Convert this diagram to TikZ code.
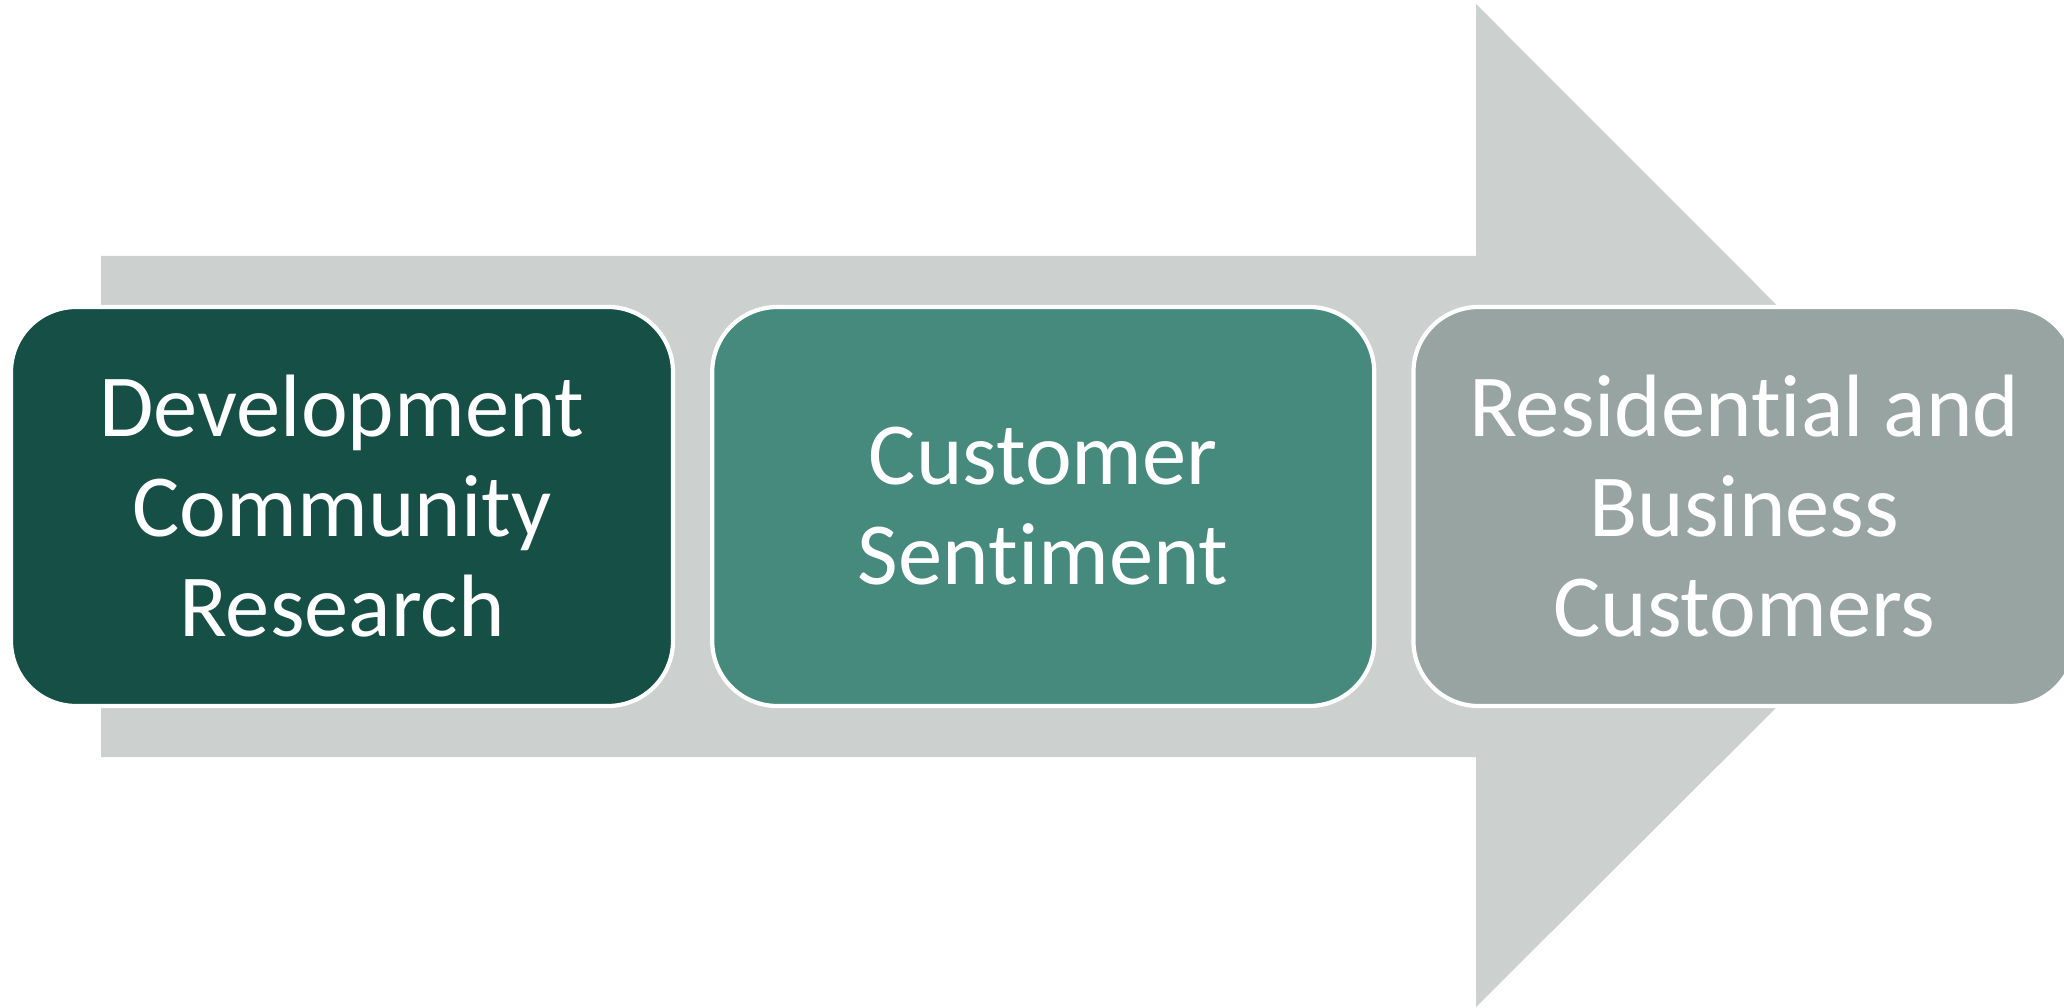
\documentclass[tikz,border=0pt]{standalone}
\usepackage{fontspec}
\setmainfont{Carlito}[Ligatures=NoCommon]
\usepackage{tikz}
\usetikzlibrary{positioning}

\definecolor{arrowgray}{RGB}{204,208,206}
\definecolor{darkgreen}{RGB}{21,79,69}
\definecolor{midgreen}{RGB}{69,138,124}
\definecolor{greygreen}{RGB}{151,164,161}

\tikzset{
  stage/.style={draw=white, line width=1.2pt, rounded corners=0.65cm,
    minimum width=6.62cm, minimum height=3.99cm, align=center,
    text=white, font=\fontsize{25.2}{28.45}\selectfont}
}

\begin{document}
\begin{tikzpicture}

    \useasboundingbox (0,0) rectangle (20.64,10.07);
    \fill[arrowgray] (1.01,2.50) -- (14.76,2.50) -- (14.76,0) -- (19.78,5.005)
      -- (14.76,10.03) -- (14.76,7.51) -- (1.01,7.51) -- cycle;

    \node[stage, fill=darkgreen] (research) at (3.42,5.005)
      {Development\\Community\\Research};
    \node[stage, fill=midgreen, right=0.35cm of research] (sentiment)
      {Customer\\Sentiment};
    \node[stage, fill=greygreen, right=0.35cm of sentiment] (customers)
      {Residential and\\Business\\Customers};
    \end{tikzpicture}
\end{document}
